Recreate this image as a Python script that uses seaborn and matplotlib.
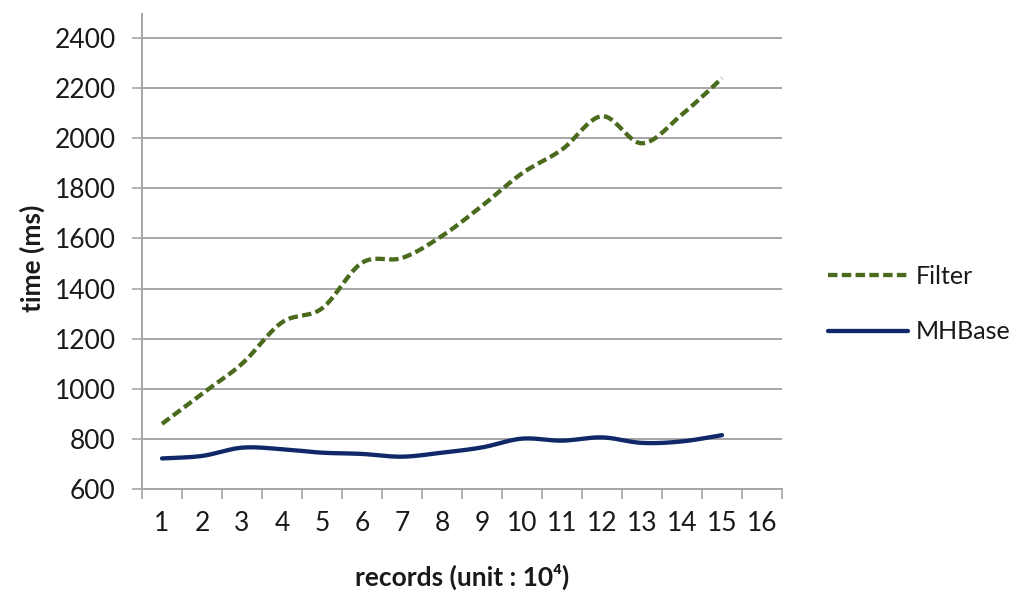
import numpy as np
import pandas as pd
import seaborn as sns
import matplotlib.pyplot as plt
from matplotlib.ticker import FixedLocator, NullFormatter

# values
records = list(range(1, 16))
category_labels = [str(i) for i in range(1, 17)]
filter_ms = [860, 980, 1100, 1265, 1321, 1503, 1522, 1610, 1730, 1860, 1955, 2088, 1980, 2095, 2240]
mhbase_ms = [722, 732, 765, 759, 745, 740, 729, 745, 766, 801, 793, 806, 784, 790, 815]
y_ticks = [600, 800, 1000, 1200, 1400, 1600, 1800, 2000, 2200, 2400]


def smooth(x, y, steps=24):
    """Excel-style smoothed line: cubic Bezier through each point (Catmull-Rom tangents)."""
    pts = np.column_stack([x, y]).astype(float)
    padded = np.vstack([pts[0], pts, pts[-1]])
    out = []
    t = np.linspace(0, 1, steps, endpoint=False)[:, None]
    for i in range(1, len(padded) - 2):
        p0, p1, p2, p3 = padded[i - 1], padded[i], padded[i + 1], padded[i + 2]
        c1 = p1 + (p2 - p0) / 6
        c2 = p2 - (p3 - p1) / 6
        seg = ((1 - t) ** 3) * p1 + 3 * ((1 - t) ** 2) * t * c1 + 3 * (1 - t) * t ** 2 * c2 + t ** 3 * p2
        out.append(seg)
    out.append(pts[-1][None, :])
    out = np.vstack(out)
    return pd.DataFrame({"records": out[:, 0], "time": out[:, 1]})


sns.set_theme(style="white")
plt.rcParams["font.family"] = ["Lato", "DejaVu Sans"]

grid_color = "#a6a6a6"
filter_color = "#4a6b1e"
mhbase_color = "#0f2868"

fig = plt.figure(figsize=(10.24, 6), dpi=100)
ax = fig.add_axes([142 / 1024, 1 - 489 / 600, 640 / 1024, 475 / 600])

filter_df = smooth(records, filter_ms)
mhbase_df = smooth(records, mhbase_ms)

sns.lineplot(data=filter_df, x="records", y="time", ax=ax, color=filter_color,
             linewidth=3.1, label="Filter", sort=False, estimator=None)
sns.lineplot(data=mhbase_df, x="records", y="time", ax=ax, color=mhbase_color,
             linewidth=3.1, label="MHBase", sort=False, estimator=None)
filter_line = ax.lines[0]
filter_line.set_dashes((2.2, 1.0))
filter_line.set_dash_capstyle("butt")
ax.lines[1].set_solid_capstyle("round")

ax.set_xlim(0.5, 16.5)
ax.set_ylim(600, 2496)

# category axis: tick marks between categories, labels at centres
ax.xaxis.set_major_locator(FixedLocator(np.arange(0.5, 17, 1)))
ax.xaxis.set_major_formatter(NullFormatter())
ax.xaxis.set_minor_locator(FixedLocator(range(1, 17)))
ax.set_xticklabels(category_labels, minor=True)
ax.tick_params(axis="x", which="major", direction="out", length=7, width=1.2,
               color=grid_color, bottom=True)
ax.tick_params(axis="x", which="minor", length=0, pad=16, labelsize=19, labelcolor="#1a1a1a")

ax.set_yticks(y_ticks)
ax.set_yticklabels([str(v) for v in y_ticks])
ax.tick_params(axis="y", direction="out", length=7, width=1.2, color=grid_color,
               left=True, pad=12, labelsize=19, labelcolor="#1a1a1a")

ax.yaxis.grid(True, color=grid_color, linewidth=1.4)
ax.xaxis.grid(False)
for side in ["top", "right"]:
    ax.spines[side].set_visible(False)
for side in ["left", "bottom"]:
    ax.spines[side].set_color(grid_color)
    ax.spines[side].set_linewidth(1.4)

ax.set_xlabel("")
ax.set_ylabel("")
fig.text(32 / 1024, 1 - 258 / 600, "time (ms)", rotation=90, ha="center", va="center",
         fontsize=19, fontweight="bold", color="#1a1a1a")
fig.text(462 / 1024, 1 - 577 / 600, "records (unit : 10\u2074)", ha="center", va="center",
         fontsize=19, fontweight="bold", color="#1a1a1a")

leg = ax.legend(loc="center left", bbox_to_anchor=(828 / 1024, 1 - 304 / 600),
                bbox_transform=fig.transFigure, frameon=False, fontsize=18,
                handlelength=3.2, handletextpad=0.3, labelspacing=1.3,
                borderpad=0, borderaxespad=0)
for text in leg.get_texts():
    text.set_color("#1a1a1a")

fig.savefig("out.png", dpi=100)
